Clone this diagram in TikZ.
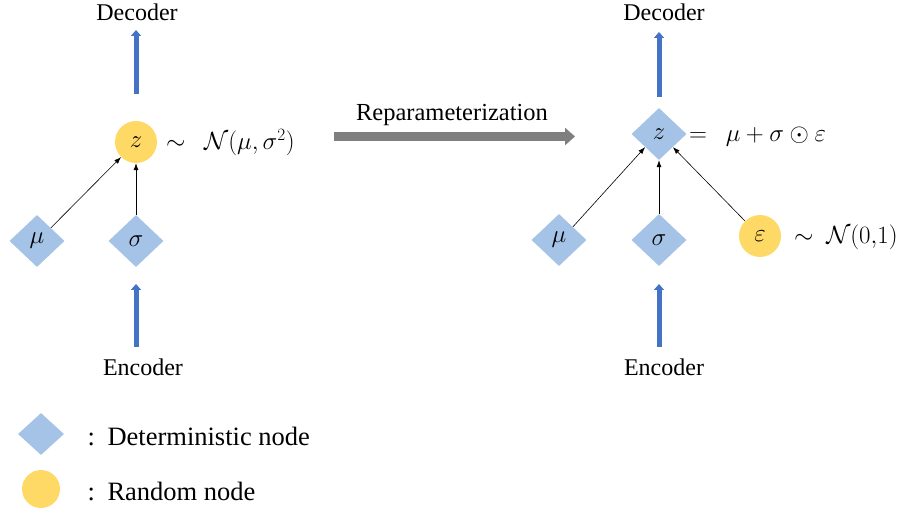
\documentclass[tikz,border=0pt]{standalone}
\usepackage{fontspec}
\setmainfont{Liberation Serif}
\usetikzlibrary{shapes.geometric,arrows.meta}
\definecolor{detblue}{HTML}{A4C3E6}
\definecolor{rndyellow}{HTML}{FFD966}
\definecolor{flowblue}{HTML}{4472C4}
\definecolor{reparamgray}{HTML}{7F7F7F}
\begin{document}
\begin{tikzpicture}[x=1pt,y=-1pt,
  detnode/.style={diamond, fill=detblue, inner sep=0pt, minimum width=55pt, minimum height=52pt, font=\fontsize{24}{28}\selectfont},
  rndnode/.style={circle, fill=rndyellow, inner sep=0pt, minimum size=42pt, font=\fontsize{24}{28}\selectfont},
  flow/.style={draw=flowblue, line width=5pt, -{Triangle[width=10pt,length=6pt]}},
  dep/.style={draw=black, line width=0.6pt, -{Latex[length=7pt,width=5pt]}},
  lbl/.style={font=\fontsize{24}{28}\selectfont, anchor=base},
  leg/.style={font=\fontsize{26.5}{30}\selectfont, anchor=base west},
  formula/.style={font=\fontsize{23.5}{28}\selectfont, anchor=base west, inner sep=0pt},
]
\useasboundingbox (0,0) rectangle (899,510);

% ---------- sampling version (left) ----------
\node[lbl] (decL) at (137,21) {Decoder};
\node[lbl] (encL) at (143,375) {Encoder};
\node[rndnode] (zL) at (136,142) {$z$};
\node[detnode] (muL) at (37,241) {$\mu$};
\node[detnode] (sgL) at (136,241) {$\sigma$};
\node[formula] (distL) at (166,150) {$\sim\ \ \mathcal{N}(\mu,\sigma^2)$};

\coordinate (decLtail) at (136,94);
\coordinate (decLtip) at (136,30);
\coordinate (encLtail) at (136,347);
\coordinate (encLtip) at (136,284);
\draw[flow] (decLtail) -- (decLtip);
\draw[flow] (encLtail) -- (encLtip);
\draw[dep] (muL.north east) -- (zL);
\draw[dep] (sgL.north) -- (zL.south);

% ---------- reparameterization arrow ----------
\coordinate (rpA) at (334,136.5);
\coordinate (rpB) at (575,136.5);
\draw[draw=reparamgray, line width=9pt, -{Triangle[width=17pt,length=10pt]}] (rpA) -- (rpB);
\node[lbl, font=\fontsize{24.5}{28}\selectfont] (rpL) at (452,121) {Reparameterization};

% ---------- reparameterized version (right) ----------
\node[lbl] (decR) at (664,21) {Decoder};
\node[lbl] (encR) at (664,375) {Encoder};
\node[detnode] (zR) at (659,134) {$z$};
\node[detnode] (muR) at (559,240) {$\mu$};
\node[detnode] (sgR) at (659,240) {$\sigma$};
\node[rndnode] (epsR) at (760,236) {$\varepsilon$};
\node[formula] (eqR) at (689,142) {$=\ \ \mu+\sigma\odot\varepsilon$};
\node[formula] (distR) at (794,244) {$\sim\ \mathcal{N}(0{,}1)$};

\coordinate (decRtail) at (659,97);
\coordinate (decRtip) at (659,32);
\coordinate (encRtail) at (659,347);
\coordinate (encRtip) at (659,284);
\draw[flow] (decRtail) -- (decRtip);
\draw[flow] (encRtail) -- (encRtip);
\draw[dep] (muR.north east) -- (zR.south west);
\draw[dep] (sgR.north) -- (zR.south);
\draw[dep] (epsR.north west) -- (zR.south east);

% ---------- legend ----------
\node[detnode, minimum width=46pt, minimum height=42pt] (legD) at (41,434) {};
\node[rndnode, minimum size=38pt] (legR) at (41,489) {};
\node[leg] (legDc) at (84,445) {:};
\node[leg] (legRc) at (84,500) {:};
\node[leg] (legDt) at (104,445) {Deterministic node};
\node[leg] (legRt) at (104,500) {Random node};
\end{tikzpicture}
\end{document}
